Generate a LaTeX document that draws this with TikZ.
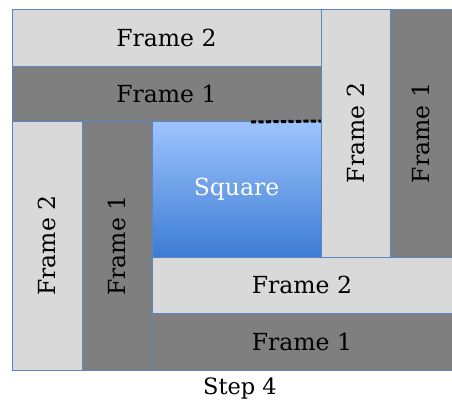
\documentclass[tikz,border=0pt]{standalone}
\usepackage{fontspec}
\setmainfont{DejaVu Serif}
\usetikzlibrary{shadows}
\definecolor{lightfr}{RGB}{217,217,217}
\definecolor{darkfr}{RGB}{127,127,127}
\definecolor{edgeblue}{RGB}{90,135,195}
\definecolor{sqtop}{RGB}{158,196,255}
\definecolor{sqbot}{RGB}{60,124,210}
\tikzset{
  frame/.style={rectangle, draw=edgeblue, line width=0.7pt, inner sep=0pt, outer sep=0pt, anchor=center,
    font=\fontsize{23.5}{23.5}\selectfont, text=black},
  lightbox/.style={frame, fill=lightfr},
  darkbox/.style={frame, fill=darkfr},
}
\begin{document}
\begin{tikzpicture}[x=1pt,y=-1pt]
\useasboundingbox (0,0) rectangle (452,405);
\fill[white] (0,0) rectangle (452,405);
% top horizontal frames
\node[darkbox, minimum width=309pt, minimum height=55pt] (t1) at (166.5,93.5) {Frame 1};
\node[lightbox, minimum width=309pt, minimum height=57pt,
  drop shadow={shadow xshift=0pt, shadow yshift=-1.2pt, opacity=0.35}] (t2) at (166.5,37.5) {Frame 2};
% right vertical frames
\node[lightbox, rotate=90, minimum width=248pt, minimum height=69pt] (r2) at (355.5,133) {Frame 2};
\node[darkbox, rotate=90, minimum width=248pt, minimum height=62pt] (r1) at (421,133) {Frame 1};
% left vertical frames
\node[lightbox, rotate=90, minimum width=249pt, minimum height=70pt] (l2) at (47,245.5) {Frame 2};
\node[darkbox, rotate=90, minimum width=249pt, minimum height=70pt] (l1) at (117,245.5) {Frame 1};
% square
\node[rectangle, draw=edgeblue, line width=0.7pt, inner sep=0pt, outer sep=0pt,
  top color=sqtop, bottom color=sqbot, minimum width=169pt, minimum height=136pt,
  font=\fontsize{23.5}{23.5}\selectfont, text=white] (sq) at (236.5,189) {Square};
% bottom horizontal frames
\node[darkbox, minimum width=300pt, minimum height=57pt] (b1) at (302,341.5) {Frame 1};
\node[lightbox, minimum width=300pt, minimum height=56pt,
  drop shadow={shadow xshift=0pt, shadow yshift=-1.2pt, opacity=0.35}] (b2) at (302,285) {Frame 2};
% dashed mark
\coordinate (d1) at (251,122);
\draw[black, line width=3pt, dash pattern=on 5pt off 2.5pt] (d1) -- (sq.north east);
% caption
\node[font=\fontsize{22.5}{22.5}\selectfont, text=black, inner sep=0pt] (cap) at (240,388) {Step 4};
\end{tikzpicture}
\end{document}
